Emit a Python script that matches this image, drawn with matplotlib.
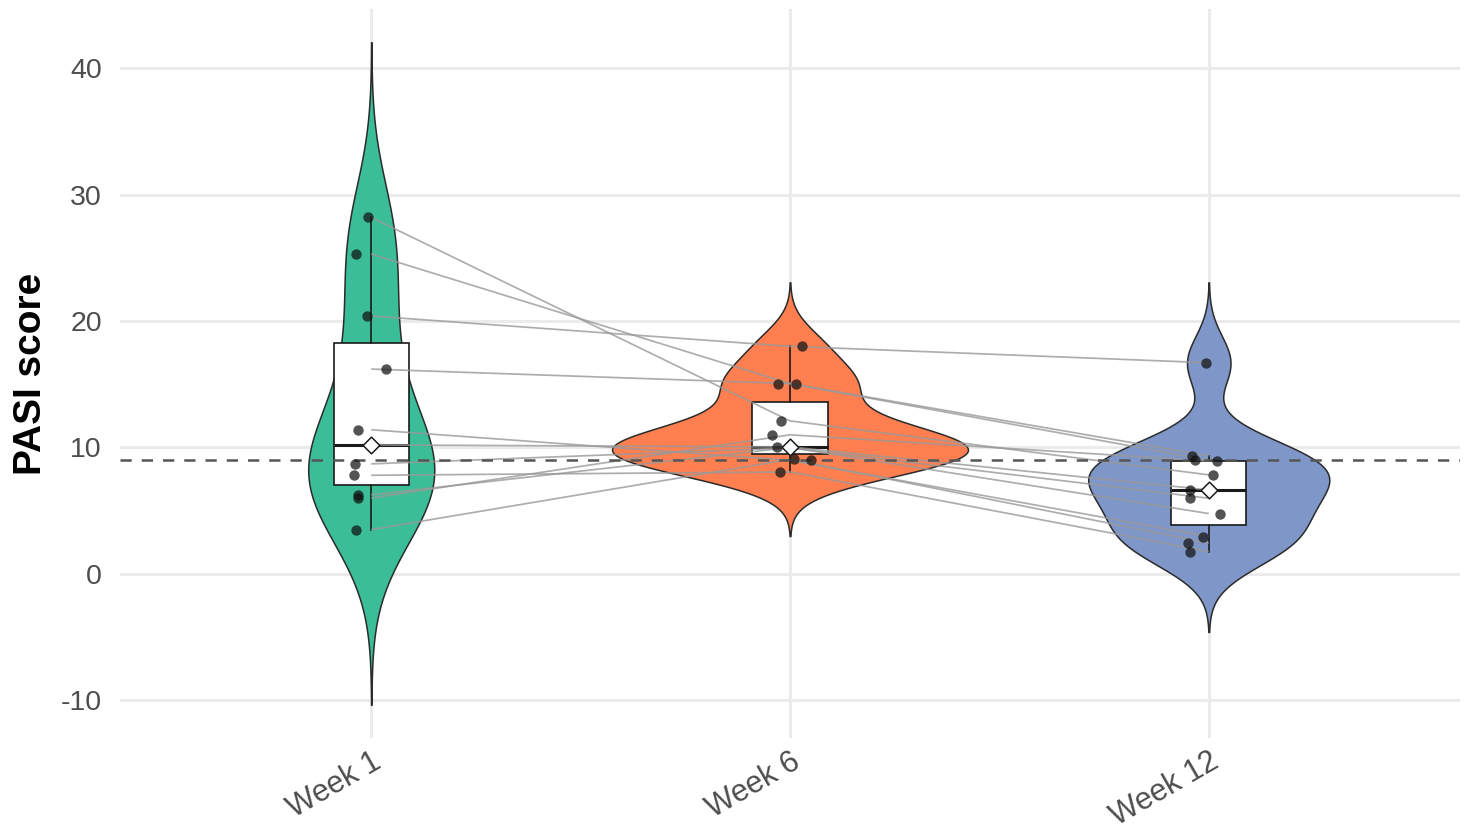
import numpy as np
import matplotlib
matplotlib.use("Agg")
import matplotlib.pyplot as plt

# PASI scores per visit; position i in each list is the same patient
weeks = ["Week 1", "Week 6", "Week 12"]
week1 = [28.2, 25.3, 20.4, 16.2, 11.4, 10.2, 8.7, 7.8, 6.25, 6.0, 3.5]
week6 = [12.1, 15.05, 18.0, 15.05, 8.98, 10.04, 9.96, 8.06, 10.0, 11.0, 9.06]
week12 = [7.83, 9.33, 16.7, 8.99, 2.95, 6.64, 5.98, 1.76, 4.77, 8.93, 2.43]
threshold = 9.0

# horizontal jitter of the dots (category units)
jitter1 = [-0.007, -0.037, -0.010, 0.035, -0.032, 0.0, -0.038, -0.041, -0.032, -0.031, -0.037]
jitter6 = [-0.021, -0.029, 0.029, 0.014, 0.050, -0.031, 0.0, -0.025, 0.002, -0.043, 0.010]
jitter12 = [0.010, -0.039, -0.006, -0.033, -0.014, -0.044, -0.045, -0.045, 0.026, 0.019, -0.049]

fill_colors = ["#3BBE97", "#FF7F50", "#7F96C8"]

plt.rcParams["font.family"] = ["Liberation Sans", "DejaVu Sans"]
plt.rcParams["axes.unicode_minus"] = False

groups = [np.array(week1), np.array(week6), np.array(week12)]
jitters = [jitter1, jitter6, jitter12]
positions = np.arange(1, len(weeks) + 1)


def bw_nrd0(x):
    sd = x.std(ddof=1)
    q75, q25 = np.percentile(x, [75, 25])
    lo = min(sd, (q75 - q25) / 1.34)
    return 0.9 * lo * len(x) ** (-0.2)


def gaussian_kde(x, bw, n=512):
    grid = np.linspace(x.min() - 3 * bw, x.max() + 3 * bw, n)
    z = (grid[:, None] - x[None, :]) / bw
    dens = np.exp(-0.5 * z ** 2).sum(axis=1) / (len(x) * bw * np.sqrt(2 * np.pi))
    return grid, dens


kdes = [gaussian_kde(g, bw_nrd0(g)) for g in groups]
dmax = max(d.max() for _, d in kdes)

fig = plt.figure(figsize=(14.68, 8.3), dpi=100)
ax = fig.add_axes([120 / 1468, 1 - 738 / 830, 1340 / 1468, 729 / 830])

# violins (area-scaled, shared maximum width)
for pos, (grid, dens), col in zip(positions, kdes, fill_colors):
    half = 0.425 * dens / dmax
    ax.fill_betweenx(grid, pos - half, pos + half, facecolor=col,
                     edgecolor="#2b2b2b", linewidth=1.1, zorder=2)

# boxplots
ax.boxplot(groups, positions=positions, widths=0.18, showfliers=False,
           showcaps=False, patch_artist=True, whis=1.5,
           boxprops=dict(facecolor="white", edgecolor="#1a1a1a", linewidth=1.2),
           whiskerprops=dict(color="#1a1a1a", linewidth=1.2),
           medianprops=dict(color="#1a1a1a", linewidth=2.2),
           zorder=3)

# paired trajectories
for s in range(len(week1)):
    ax.plot(positions, [week1[s], week6[s], week12[s]], color="#999999",
            alpha=0.8, linewidth=1.25, zorder=4, solid_capstyle="butt")

# reference threshold
ax.axhline(threshold, color="#555555", linewidth=1.8, linestyle=(0, (4.5, 4.0)),
           zorder=5)

# individual scores
for pos, g, jit in zip(positions, groups, jitters):
    ax.scatter(pos + np.array(jit), g, s=56, color="#111111", alpha=0.72,
               linewidths=0, zorder=6)

# medians as diamonds
ax.scatter(positions, [np.median(g) for g in groups], marker="D", s=72,
           facecolor="white", edgecolor="#1a1a1a", linewidths=1.1, zorder=7)

# axes styling
ymin = min(gr.min() for gr, _ in kdes)
ymax = max(gr.max() for gr, _ in kdes)
pad = 0.05 * (ymax - ymin)
ax.set_ylim(ymin - pad, ymax + pad)
ax.set_xlim(0.4, 3.6)
ax.set_yticks([-10, 0, 10, 20, 30, 40])
ax.set_xticks(positions)
ax.set_xticklabels(weeks, rotation=30, ha="right", rotation_mode="anchor")
ax.tick_params(axis="both", length=0, labelcolor="#4D4D4D")
ax.tick_params(axis="y", pad=13, labelsize=20.5)
ax.tick_params(axis="x", pad=6, labelsize=22)
for sp in ax.spines.values():
    sp.set_visible(False)
ax.grid(True, color="#EBEBEB", linewidth=2.2, zorder=0)
ax.set_axisbelow(True)

fig.text(41 / 1468, 1 - 374 / 830, "PASI score", rotation=90, rotation_mode="anchor",
         ha="center", va="baseline", fontsize=28, fontweight="bold", color="black")

fig.savefig("out.png", dpi=100, facecolor="white")
